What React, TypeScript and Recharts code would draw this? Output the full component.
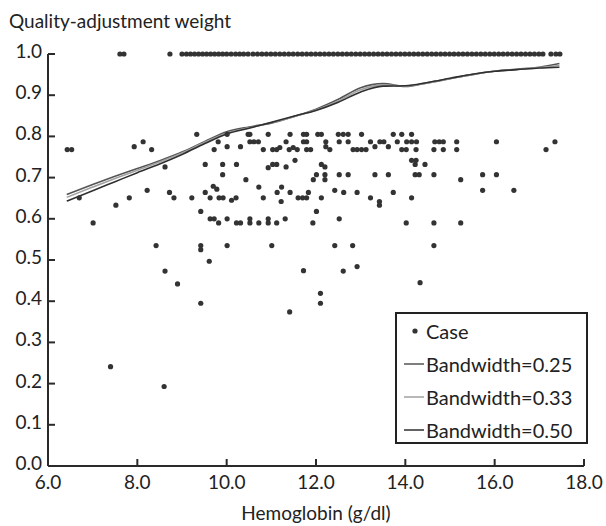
import React from "react";
import {
  ComposedChart,
  Scatter,
  Line,
  XAxis,
  YAxis,
  Legend,
} from "recharts";

const FONT = "Lato, 'Open Sans', sans-serif";

// hemoglobin values of the cases with weight 1.0 (the dense top row)
const fullWeightHb = [
  7.61, 7.7, 8.73, 9.0, 9.1, 9.19, 9.28, 9.37, 9.46, 9.55, 9.64, 9.73, 9.82,
  9.91, 10.0, 10.1, 10.2, 10.29, 10.38, 10.48, 10.59, 10.69, 10.79, 10.89,
  10.99, 11.09, 11.19, 11.29, 11.39, 11.49, 11.59, 11.69, 11.79, 11.89, 11.99,
  12.09, 12.19, 12.29, 12.39, 12.49, 12.59, 12.69, 12.79, 12.89, 12.99, 13.09,
  13.19, 13.29, 13.39, 13.49, 13.59, 13.69, 13.79, 13.89, 13.99, 14.09, 14.19,
  14.29, 14.39, 14.49, 14.59, 14.69, 14.79, 14.89, 14.99, 15.09, 15.19, 15.29,
  15.39, 15.49, 15.59, 15.69, 15.79, 15.89, 15.99, 16.09, 16.19, 16.29, 16.39,
  16.49, 16.59, 16.69, 16.79, 16.89, 16.99, 17.08, 17.26, 17.37, 17.46,
];

// remaining cases: [hemoglobin, weight]
const partialCases: [number, number][] = [
  [6.43, 0.768], [6.53, 0.768], [6.7, 0.651], [7.01, 0.59], [7.4, 0.241],
  [7.52, 0.633], [7.82, 0.651], [7.93, 0.775], [8.13, 0.787], [8.22, 0.669],
  [8.32, 0.768], [8.42, 0.535], [8.6, 0.193], [8.62, 0.726], [8.62, 0.473],
  [8.72, 0.664], [8.82, 0.651], [8.9, 0.442], [9.22, 0.651], [9.33, 0.805],
  [9.42, 0.618], [9.42, 0.535], [9.42, 0.525], [9.42, 0.395], [9.52, 0.732],
  [9.52, 0.664], [9.61, 0.497], [9.63, 0.651], [9.63, 0.6], [9.7, 0.679],
  [9.72, 0.6], [9.72, 0.768], [9.78, 0.672], [9.81, 0.787], [9.82, 0.59],
  [9.83, 0.651], [9.91, 0.732], [9.91, 0.707], [9.92, 0.651], [10.01, 0.805],
  [10.01, 0.775], [10.01, 0.6], [10.01, 0.535], [10.11, 0.645], [10.21, 0.651],
  [10.22, 0.732], [10.22, 0.59], [10.31, 0.775], [10.31, 0.59], [10.43, 0.695],
  [10.48, 0.805], [10.52, 0.805], [10.52, 0.787], [10.52, 0.6], [10.52, 0.59],
  [10.61, 0.787], [10.71, 0.787], [10.72, 0.677], [10.72, 0.59], [10.82, 0.651],
  [10.82, 0.768], [10.93, 0.805], [10.93, 0.724], [10.93, 0.6], [10.93, 0.59],
  [11.01, 0.535], [11.03, 0.732], [11.03, 0.768], [11.12, 0.732], [11.12, 0.768],
  [11.12, 0.59], [11.13, 0.664], [11.19, 0.773], [11.22, 0.642], [11.23, 0.677],
  [11.31, 0.6], [11.33, 0.787], [11.33, 0.726], [11.4, 0.768], [11.41, 0.374],
  [11.42, 0.805], [11.42, 0.664], [11.49, 0.773], [11.53, 0.742], [11.58, 0.768],
  [11.6, 0.651], [11.7, 0.651], [11.72, 0.805], [11.72, 0.787], [11.72, 0.474],
  [11.79, 0.805], [11.79, 0.787], [11.79, 0.768], [11.79, 0.651], [11.83, 0.664],
  [11.88, 0.768], [11.93, 0.59], [11.94, 0.695], [12.01, 0.707], [12.01, 0.618],
  [12.04, 0.805], [12.12, 0.805], [12.12, 0.651], [12.12, 0.732], [12.1, 0.419],
  [12.1, 0.395], [12.2, 0.726], [12.22, 0.787], [12.22, 0.775], [12.2, 0.707],
  [12.2, 0.695], [12.31, 0.768], [12.42, 0.669], [12.42, 0.535], [12.5, 0.805],
  [12.52, 0.787], [12.52, 0.707], [12.52, 0.6], [12.61, 0.805], [12.61, 0.473],
  [12.62, 0.664], [12.72, 0.805], [12.72, 0.787], [12.72, 0.707], [12.82, 0.535],
  [12.83, 0.768], [12.92, 0.768], [12.92, 0.664], [12.92, 0.484], [13.02, 0.805],
  [13.02, 0.768], [13.12, 0.768], [13.22, 0.787], [13.22, 0.651], [13.32, 0.775],
  [13.32, 0.707], [13.42, 0.642], [13.42, 0.633], [13.43, 0.787], [13.52, 0.787],
  [13.62, 0.775], [13.62, 0.707], [13.73, 0.805], [13.73, 0.664], [13.82, 0.787],
  [13.92, 0.805], [13.92, 0.768], [14.02, 0.768], [14.02, 0.59], [14.03, 0.787],
  [14.14, 0.805], [14.14, 0.787], [14.14, 0.742], [14.14, 0.651], [14.22, 0.732],
  [14.22, 0.707], [14.24, 0.768], [14.24, 0.742], [14.25, 0.787], [14.31, 0.707],
  [14.33, 0.445], [14.44, 0.732], [14.64, 0.768], [14.64, 0.707], [14.64, 0.59],
  [14.64, 0.535], [14.66, 0.787], [14.76, 0.787], [14.85, 0.787], [14.85, 0.768],
  [15.15, 0.787], [15.15, 0.768], [15.24, 0.695], [15.24, 0.59], [15.73, 0.707],
  [15.73, 0.669], [16.04, 0.787], [16.04, 0.707], [16.43, 0.669], [17.15, 0.768],
  [17.35, 0.787],
];

// loess fits
const fitHb = [
  6.42, 7.0, 7.5, 8.0, 8.5, 9.0, 9.5, 10.0, 10.5, 11.0, 11.5, 12.0, 12.5, 13.0,
  13.5, 14.0, 14.5, 15.0, 15.5, 16.0, 16.5, 17.0, 17.45,
];
const fitBw025 = [
  0.659, 0.683, 0.703, 0.722, 0.741, 0.762, 0.787, 0.811, 0.823, 0.832, 0.848,
  0.866, 0.89, 0.918, 0.928, 0.921, 0.93, 0.94, 0.95, 0.958, 0.963, 0.968,
  0.977,
];
const fitBw033 = [
  0.652, 0.677, 0.698, 0.718, 0.738, 0.76, 0.785, 0.808, 0.821, 0.833, 0.848,
  0.864, 0.886, 0.913, 0.925, 0.922, 0.93, 0.94, 0.95, 0.958, 0.963, 0.967,
  0.972,
];
const fitBw050 = [
  0.643, 0.668, 0.69, 0.712, 0.733, 0.756, 0.782, 0.806, 0.82, 0.834, 0.849,
  0.863, 0.883, 0.908, 0.922, 0.923, 0.931, 0.941, 0.951, 0.958, 0.962, 0.966,
  0.968,
];

const xTicks = [6, 8, 10, 12, 14, 16, 18];
const yTicks = [0, 0.1, 0.2, 0.3, 0.4, 0.5, 0.6, 0.7, 0.8, 0.9, 1.0];

const AXIS = "#2a2a2a";
const DOT = "#333";

const lines = [
  { key: "bw25", name: "Bandwidth=0.25", color: "#555" },
  { key: "bw33", name: "Bandwidth=0.33", color: "#a0a0a0" },
  { key: "bw50", name: "Bandwidth=0.50", color: "#2f2f2f" },
];

const cases = [
  ...fullWeightHb.map((hb) => ({ hb, weight: 1.0 })),
  ...partialCases.map(([hb, weight]) => ({ hb, weight })),
];

const fits = fitHb.map((hb, i) => ({
  hb,
  bw25: fitBw025[i],
  bw33: fitBw033[i],
  bw50: fitBw050[i],
}));

function XTick(props: any) {
  const { x, y, payload } = props;
  return (
    <g>
      {payload.value !== 6 && (
        <line x1={x} y1={y} x2={x} y2={y - 7} stroke={AXIS} strokeWidth={2} />
      )}
      <text
        x={x}
        y={y + 23}
        textAnchor="middle"
        fontFamily={FONT}
        fontSize={19}
        fill="#222"
      >
        {payload.value.toFixed(1)}
      </text>
    </g>
  );
}

function YTick(props: any) {
  const { x, y, payload } = props;
  return (
    <g>
      {payload.value !== 0 && (
        <line x1={x} y1={y} x2={x + 7} y2={y} stroke={AXIS} strokeWidth={2} />
      )}
      <text
        x={x - 6}
        y={y + 4}
        textAnchor="end"
        fontFamily={FONT}
        fontSize={19}
        fill="#222"
      >
        {payload.value.toFixed(1)}
      </text>
    </g>
  );
}

function LegendBox() {
  const row = { display: "flex", alignItems: "center", height: 33 } as const;
  return (
    <div
      style={{
        border: "2px solid #222",
        width: 189,
        height: 128,
        boxSizing: "content-box",
        fontFamily: FONT,
        fontSize: 20,
        color: "#222",
        textAlign: "left",
      }}
    >
      <div style={{ ...row, paddingLeft: 15 }}>
        <svg width={16} height={10}>
          <circle cx={3} cy={5} r={2.6} fill={DOT} />
        </svg>
        <span style={{ marginLeft: -2 }}>Case</span>
      </div>
      {lines.map((l) => (
        <div key={l.key} style={{ ...row, paddingLeft: 6 }}>
          <svg width={23} height={10}>
            <line x1={1} y1={5} x2={21} y2={5} stroke={l.color} strokeWidth={1.5} />
          </svg>
          <span>{l.name}</span>
        </div>
      ))}
    </div>
  );
}

export default function App() {
  return (
    <div
      style={{
        position: "absolute",
        left: 0,
        top: 0,
        width: 606,
        height: 526,
        background: "#fff",
        fontFamily: FONT,
      }}
    >
      <div
        style={{
          position: "absolute",
          left: 9,
          top: 9,
          fontSize: 19,
          color: "#222",
        }}
      >
        Quality-adjustment weight
      </div>
      <ComposedChart
        width={606}
        height={526}
        data={fits}
        margin={{ top: 54, right: 22, bottom: 0, left: 8 }}
      >
        <XAxis
          dataKey="hb"
          type="number"
          domain={[6, 18]}
          ticks={xTicks}
          interval={0}
          allowDataOverflow
          height={60}
          tickSize={0}
          tickMargin={0}
          tick={<XTick />}
          axisLine={{ stroke: AXIS, strokeWidth: 2 }}
          label={{
            value: "Hemoglobin (g/dl)",
            position: "insideBottom",
            offset: 6,
            fontFamily: FONT,
            fontSize: 19,
            fill: "#222",
          }}
        />
        <YAxis
          type="number"
          domain={[0, 1]}
          ticks={yTicks}
          interval={0}
          width={40}
          tickSize={0}
          tickMargin={0}
          tick={<YTick />}
          axisLine={{ stroke: AXIS, strokeWidth: 2 }}
        />
        <Scatter
          name="Case"
          data={cases}
          dataKey="weight"
          isAnimationActive={false}
          shape={(p: any) => <circle cx={p.cx} cy={p.cy} r={2.6} fill={DOT} />}
        />
        {lines.map((l) => (
          <Line
            key={l.key}
            type="monotone"
            dataKey={l.key}
            name={l.name}
            stroke={l.color}
            strokeWidth={1.6}
            dot={false}
            activeDot={false}
            isAnimationActive={false}
          />
        ))}
        <Legend
          content={<LegendBox />}
          layout="vertical"
          align="center"
          verticalAlign="middle"
          wrapperStyle={{ position: "absolute", left: 395, top: 312, width: 193 }}
        />
      </ComposedChart>
    </div>
  );
}
